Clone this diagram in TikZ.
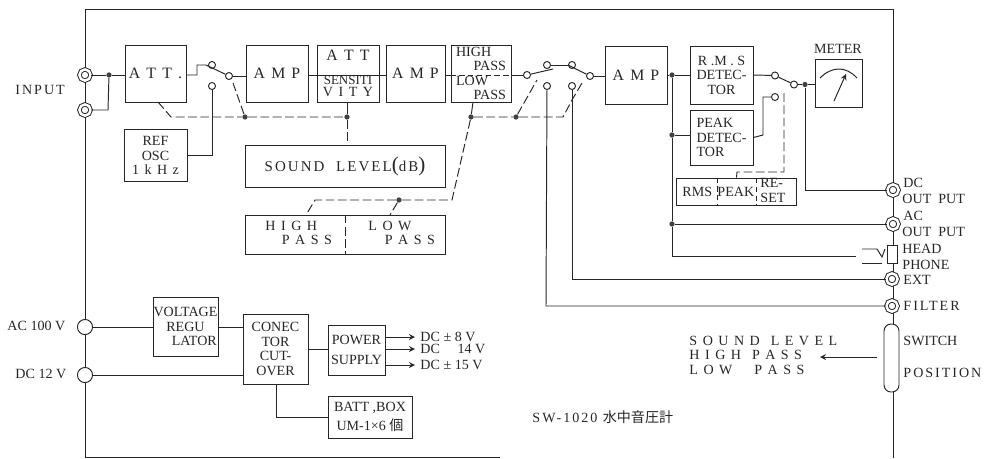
\documentclass[tikz,border=0pt]{standalone}
\usepackage{fontspec}
\setmainfont{Liberation Serif}
\newfontfamily\wide[LetterSpace=14]{Liberation Serif}
\newfontfamily\cjk{Noto Sans CJK JP}
\tikzset{
  blk/.style 2 args={draw,fill=white,inner sep=0pt,align=center,font=\fontsize{8}{8.2}\selectfont,
    minimum width=#1*0.02cm,minimum height=#2*0.02cm},
  lbl/.style={inner sep=0pt,anchor=west,font=\fontsize{8}{8.2}\selectfont},
  contact/.style={circle,draw,fill=white,inner sep=0pt,minimum size=4pt},
  dotn/.style={circle,fill=black!75,inner sep=0pt,minimum size=3pt},
  jack/.style={circle,draw,fill=white,double,double distance=1.4pt,inner sep=0pt,minimum size=6.4pt},
  powerjack/.style={circle,draw,fill=white,inner sep=0pt,minimum size=8.6pt},
  gang/.style={dashed,dash pattern=on 5pt off 2pt},
}
\begin{document}
\begin{tikzpicture}[x=0.02cm,y=-0.02cm,line width=0.55pt,black!85]
  \useasboundingbox (0,0) rectangle (984,458);
  \coordinate (fra) at (85,9);
  \coordinate (frb) at (893,9);
  \coordinate (frc) at (893,458);
  \coordinate (frd) at (85,457);
  \coordinate (fre) at (500,457);
  \draw (fre) -- (frd) -- (fra) -- (frb) -- (frc);

  % top row
  \node[jack] (in1) at (85,75) {};
  \node[jack] (in2) at (85,110) {};
  \node[dotn] (indot) at (109,75) {};
  \node[blk={61}{57}] (att) at (155.5,73.5) {\wide\fontsize{9}{9}\selectfont A T T .};
  \node[contact] (s1a) at (212,65) {};
  \node[contact] (s1b) at (229,76) {};
  \node[contact] (s1c) at (212,86) {};
  \coordinate (s1p) at (206,65);
  \node[blk={62}{57}] (amp1) at (277,73.5) {\wide\fontsize{9}{9}\selectfont A M P};
  \node[blk={62}{57}] (sens) at (348,73.5) {\wide\fontsize{9}{9}\selectfont A T T\\[5.5pt]\fontsize{7.4}{8}\selectfont SENSITI\\[-1pt]\wide V I T Y};
  \node[blk={59}{57}] (amp2) at (415.5,73.5) {\wide\fontsize{9}{9}\selectfont A M P};
  \node[blk={60}{57},align=left] (filt) at (481,73.5) {HIGH\\\hspace*{10pt}PASS\\LOW\\\hspace*{10pt}PASS};
  \node[contact] (s2a) at (527,75) {};
  \node[contact] (s2b) at (547,65) {};
  \node[contact] (s2c) at (572,65) {};
  \node[contact] (s2d) at (590,76) {};
  \node[contact] (s2e) at (547,86) {};
  \node[contact] (s2f) at (572,86) {};
  \node[blk={62}{58}] (amp3) at (636,75) {\wide\fontsize{9}{9}\selectfont A M P};
  \node[blk={63}{58}] (rms) at (721.5,75) {R .M . S\\DETEC-\\TOR};
  \node[blk={63}{55},align=left] (peak) at (721.5,137.5) {PEAK\\DETEC-\\TOR};
  \node[contact] (s3a) at (775,75.5) {};
  \node[contact] (s3b) at (794,84.5) {};
  \node[contact] (s3c) at (775,97) {};
  \node[blk={47}{48}] (meter) at (838.5,83) {};
  \node[lbl,anchor=center] (metertxt) at (838,49) {METER};
  \draw (820,78) .. controls (832,66) and (846,66) .. (857,78);
  \draw[-stealth] (834,101) -- (846,74);

  % modes and selectors
  \node[blk={63}{52}] (osc) at (155.5,155.5) {REF\\OSC\\\wide 1 k H z};
  \node[blk={200}{42}] (level) at (345,166) {\wide\fontsize{8.5}{9}\selectfont SOUND\ \ LEVEL{\large(}dB{\large)}};
  \node[blk={200}{39}] (passb) at (345,234.5) {};
  \node[lbl] (hptxt) at (265,234.5) {\begin{tabular}{@{}l@{}}\wide H I G H\\\wide\ \ \ P A S S\end{tabular}};
  \node[lbl] (lptxt) at (368,234.5) {\begin{tabular}{@{}l@{}}\wide L O W\\\wide\ \ \ P A S S\end{tabular}};
  \node[blk={120}{27}] (sel) at (736.5,191.5) {};
  \node[lbl] (seltxt1) at (682,192) {RMS};
  \node[lbl] (seltxt2) at (717,192) {PEAK};
  \node[lbl] (seltxt3) at (760,192) {\begin{tabular}{@{}l@{}}RE-\\SET\end{tabular}};
  \draw[densely dashed] (sel.north -| seltxt2.west) -- (sel.south -| seltxt2.west);
  \draw[densely dashed] (756,178) -- (756,205);
  \draw[gang] (passb.north) -- (passb.south);

  % signal lines
  \draw (in1) -- (indot) -- (indot -| att.west);
  \draw (in2) -- (108,110) -- (indot);
  \draw (indot -| att.east) -- (197,75) -- (197,65) -- (s1p) -- (s1b);
  \draw (s1b) -- (s1b -| amp1.west);
  \draw (indot -| amp1.east) -- (indot -| sens.west);
  \draw (indot -| sens.west) -- (indot -| sens.east);
  \draw (indot -| sens.east) -- (indot -| amp2.west);
  \draw (indot -| amp2.east) -- (indot -| filt.west);
  \draw[densely dashed] (indot -| filt.west) -- (indot -| filt.east);
  \draw (indot -| filt.east) -- (s2a);
  \draw (s2a) -- (553,69);
  \draw (s2b) -- (s2c);
  \draw (568,65) -- (s2d);
  \draw (s2d) -- (s2d -| amp3.west);
  \node[dotn] (d1) at (672,75) {};
  \node[dotn] (d2) at (672,135) {};
  \node[dotn] (d3) at (672,224) {};
  \draw (amp3.east) -- (d1) -- (rms.west);
  \draw (d2) -- (d2 -| peak.west);
  \draw (rms.east) -- (s3a) -- (s3b);
  \node[dotn] (d4) at (805,84.5) {};
  \draw (s3b) -- (d4) -- (d4 -| meter.west);
  \draw (peak.east) -- (763,135) -- (763,97) -- (s3c);
  \draw (s1c) -- (212,155) -- (osc.east |- 0,155);

  % gang lines
  \node[dotn] (g1) at (245,117) {};
  \node[dotn] (g2) at (347,117) {};
  \node[dotn] (g3) at (471,117) {};
  \node[dotn] (g4) at (516,117) {};
  \node[dotn] (g5) at (399,200) {};
  \draw[gang] (158,102) -- (171,117) -- (g1) -- (g2);
  \draw[gang] (g1) -- (233,83);
  \draw (g2) -- (sens.south -| g2);
  \draw[gang] (g2) -- (level.north -| g2);
  \draw (g3) -- (473,102);
  \draw[gang] (g3) -- (452,200) -- (g5) -- (315,200) -- (306,215);
  \draw[gang] (g5) -- (390,215);
  \draw[gang] (g3) -- (g4) -- (537,80);
  \draw[gang] (g4) -- (563,117) -- (572,100) -- (582,83);
  \draw[gang] (784,93) -- (784,172) -- (737,172) -- (sel.north);

  % panel
  \node[jack] (jdc) at (893,190) {};
  \node[jack] (jac) at (893,224) {};
  \node[jack] (jext) at (892,279) {};
  \node[jack] (jfil) at (892,306) {};
  \node[draw,fill=white,minimum width=10*0.02cm,minimum height=18*0.02cm,inner sep=0pt] (phone) at (892,254) {};
  \node[draw,fill=white,rounded corners=4pt,minimum width=15*0.02cm,minimum height=68*0.02cm,inner sep=0pt] (pos) at (891.5,358) {};
  \coordinate (ph) at (856,256);
  \draw (d1) -- (d2) -- (d3) -- (672,256) -- (ph);
  \draw (d3) -- (jac);
  \draw (d4) -- (805,190) -- (jdc);
  \draw (s2f) -- (572,279) -- (jext);
  \draw (s2e) -- (546,306) -- (jfil);
  \draw (862,249) -- (877,249) -- (882,257) -- (885,249);
  \draw (862,263) -- (882,263);
  \node[lbl] (tdc) at (903,183) {DC};
  \node[lbl] (tdco) at (902,199) {OUT\ \ PUT};
  \node[lbl] (tac) at (903,216) {AC};
  \node[lbl] (taco) at (902,232) {OUT\ \ PUT};
  \node[lbl] (thead) at (902,249) {HEAD};
  \node[lbl] (tphone) at (902,265) {PHONE};
  \node[lbl] (text) at (903,280) {EXT};
  \node[lbl] (tfil) at (903,306) {\wide FILTER};
  \node[lbl] (tsw) at (903,341) {SWITCH};
  \node[lbl] (tpos) at (903,373) {\wide POSITION};
  \node[lbl] (tmode) at (689,357) {\begin{tabular}{@{}l@{}}\wide S O U N D\ \ L E V E L\\\wide H I G H\ \ P A S S\\\wide L O W\ \ \ \ P A S S\end{tabular}};
  \coordinate (mode) at (820,357);
  \draw[-stealth] (877,357) -- (mode);
  \node[lbl] (tinput) at (15,90) {\wide INPUT};
  \node[lbl] (ttitle) at (532,417) {\wide SW-1020 {\cjk 水中音圧計}};

  % power
  \node[powerjack] (ac) at (85,327) {};
  \node[powerjack] (dc) at (85,375) {};
  \node[lbl] (tacv) at (7,326) {AC 100 V};
  \node[lbl] (tdcv) at (15,374) {DC 12 V};
  \node[blk={65}{59}] (reg) at (185.5,326.5) {VOLTAGE\\REGU\\\hspace*{10pt}LATOR};
  \node[blk={65}{70}] (conn) at (275.5,349) {CONEC\\TOR\\CUT-\\OVER};
  \node[blk={57}{50}] (psu) at (356.5,350) {POWER\\[3pt]SUPPLY};
  \node[blk={84}{42}] (batt) at (370,417) {BATT ,BOX\\[3pt]UM-1×6 {\cjk 個}};
  \coordinate (o1) at (415,337);
  \coordinate (o2) at (415,349);
  \coordinate (o3) at (415,365);
  \draw (ac) -- (reg.west |- ac);
  \draw (reg.east |- ac) -- (conn.west |- ac);
  \draw (dc) -- (conn.west |- dc);
  \draw (conn.east |- o2) -- (psu.west |- o2);
  \draw (276,384) -- (276,417) -- (batt.west);
  \foreach \n in {o1,o2,o3}
    \draw[-stealth] (psu.east |- \n) -- (\n);
  \node[lbl] (to1) at (420,337) {DC ± 8 V};
  \node[lbl] (to2) at (420,349) {DC\ \ \ \ \ 14 V};
  \node[lbl] (to3) at (420,365) {DC ± 15 V};
\end{tikzpicture}
\end{document}
